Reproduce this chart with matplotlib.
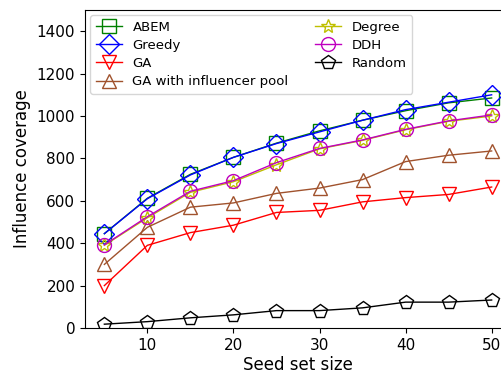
import numpy as np
import matplotlib
matplotlib.use('Agg')
import matplotlib.pyplot as plt

seed_sizes = [5, 10, 15, 20, 25, 30, 35, 40, 45, 50]

abem = [445, 612, 725, 805, 872, 930, 980, 1025, 1062, 1085]
greedy = [445, 610, 722, 805, 870, 925, 980, 1030, 1065, 1100]
ga = [200, 390, 450, 485, 545, 555, 595, 615, 630, 665]
ga_pool = [300, 475, 570, 590, 635, 660, 700, 785, 815, 835]
degree = [390, 520, 640, 690, 770, 845, 885, 935, 975, 1000]
ddh = [392, 525, 645, 695, 780, 847, 887, 937, 977, 1005]
random_sel = [18, 30, 48, 62, 82, 82, 95, 122, 122, 132]

series = [
    ('ABEM', abem, 'g', 's'),
    ('Greedy', greedy, 'b', 'D'),
    ('GA', ga, 'r', 'v'),
    ('GA with influencer pool', ga_pool, 'sienna', '^'),
    ('Degree', degree, 'y', '*'),
    ('DDH', ddh, 'm', 'o'),
    ('Random', random_sel, 'k', 'p'),
]

fig = plt.figure(figsize=(5.02, 3.73), dpi=100)
ax = fig.add_axes([85/502, 45/373, 426/502, 318/373])

for name, vals, c, m in series:
    ax.plot(seed_sizes, vals, color=c, marker=m, markersize=10,
            markerfacecolor='none', linewidth=1, label=name)

ax.set_ylim(0, 1500)
ax.set_xticks([10, 20, 30, 40, 50])
ax.set_yticks([0, 200, 400, 600, 800, 1000, 1200, 1400])
ax.tick_params(labelsize=11)
ax.set_xlabel('Seed set size', fontsize=12, labelpad=2)
ax.set_ylabel('Influence coverage', fontsize=12)
ax.legend(loc='upper left', ncol=2, fontsize=9.5, labelspacing=0.4,
          borderaxespad=0.4)

fig.savefig('out.png', dpi=100)
